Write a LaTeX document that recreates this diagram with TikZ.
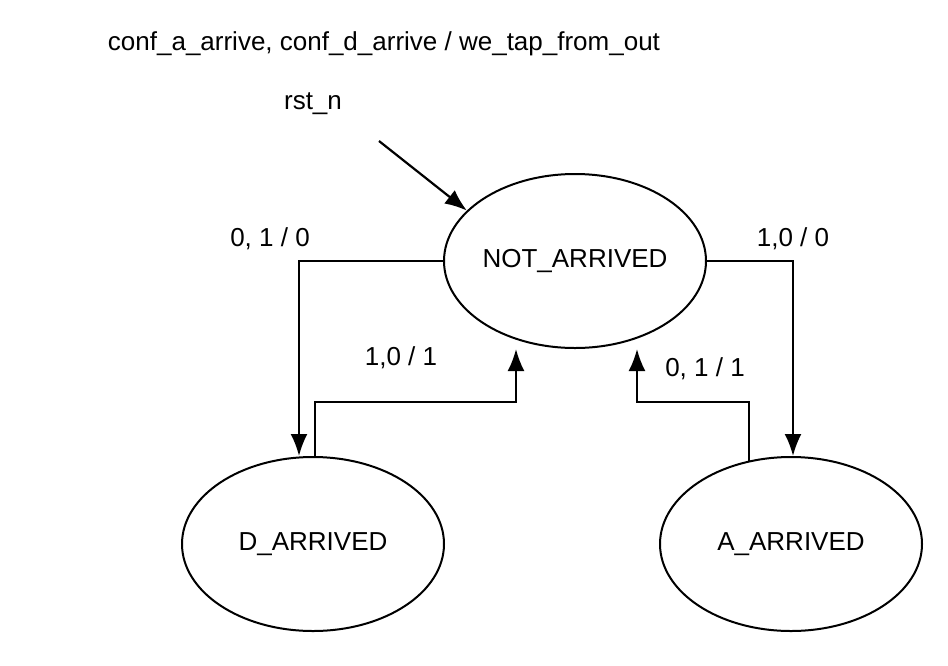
\documentclass[tikz,border=0pt]{standalone}
\usepackage{fontspec}
\setmainfont{Liberation Sans}
\usetikzlibrary{arrows.meta,shapes.geometric}
\tikzset{
  state/.style={draw,line width=2pt,ellipse,minimum width=262pt,minimum height=174pt,inner sep=0pt},
  lbl/.style={font=\fontsize{26}{31}\selectfont,inner sep=0pt},
  conn/.style={line width=2.2pt,-{Latex[length=22pt,width=17pt]}}
}
\begin{document}
\begin{tikzpicture}[x=1pt,y=-1pt]
\useasboundingbox (0,0) rectangle (948,665);
\node[state,lbl] (na) at (575,261) {NOT\_ARRIVED};
\node[state,lbl] (da) at (313,544) {D\_ARRIVED};
\node[state,lbl] (aa) at (791,544) {A\_ARRIVED};
\node[lbl] (top) at (384,44) {conf\_a\_arrive, conf\_d\_arrive / we\_tap\_from\_out};
\node[lbl] (rst) at (313,104) {rst\_n};
\coordinate (rs) at (379,141);
\draw[conn] (rs) -- (na.155);
\draw[conn] (na.west) -| (da.north -| 299,0);
\draw[conn] (na.east) -| (aa.north -| 793,0);
\coordinate (d1) at (315,402);
\coordinate (d2) at (516,402);
\draw[conn] (da.north -| d1) -- (d1) -- (d2) -- (na.south -| d2);
\coordinate (a1) at (749,402);
\coordinate (a2) at (637,402);
\draw[conn] (aa.117 -| a1) -- (a1) -- (a2) -- (na.south -| a2);
\node[lbl] (l1) at (270,239) {0, 1 / 0};
\node[lbl] (l2) at (401,358) {1,0 / 1};
\node[lbl] (l3) at (793,239) {1,0 / 0};
\node[lbl] (l4) at (705,369) {0, 1 / 1};
\end{tikzpicture}
\end{document}
